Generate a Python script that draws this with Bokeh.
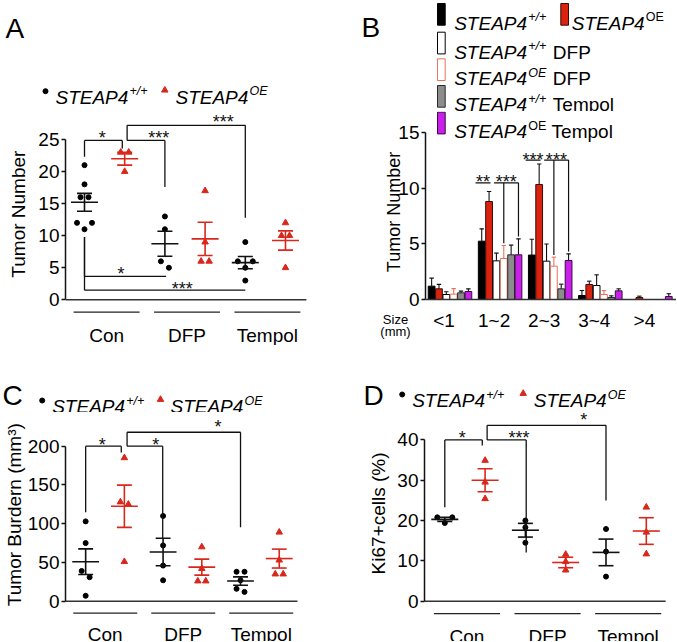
from bokeh.plotting import figure
from bokeh.models import Range1d, FixedTicker
from bokeh.layouts import column, row
from bokeh.embed import file_html
from bokeh.resources import INLINE
from bokeh.core.properties import value

FONT = "Liberation Sans"
INK = "#111111"
RED = "#d8281d"
RED_BAR = "#d9230f"
SALMON = "#e8735c"
GRAY_BAR = "#8c8c8c"
PURPLE = "#c91fea"

# ---------------- data ----------------
groups = ["Con", "DFP", "Tempol"]

# Panel A: tumor number per mouse
A_wt = [[21, 18, 16, 16, 12, 12, 11], [13, 11, 6, 5], [9, 6, 6, 5, 3]]
A_oe = [[23, 23, 20], [17, 9, 6, 6], [12, 10, 10, 5]]
A_wt_mean = [15.2, 8.75, 5.8]
A_wt_sem = [1.4, 1.95, 0.96]
A_oe_mean = [22.0, 9.5, 9.25]
A_oe_sem = [1.0, 2.6, 1.5]
A_ticks = [0, 5, 10, 15, 20, 25]
A_brackets = [(1.0, 1.94, 24.85, 22.3, 23.6), (2.06, 3.0, 24.85, None, 17.6),
              (2.06, 5.0, 27.2, 24.85, 12.8), (1.0, 3.03, 3.64, 9.8, None),
              (1.0, 5.0, 1.5, 9.8, None)]
A_stars = [(1.44, 26.0, "*"), (2.85, 26.0, "***"), (4.45, 28.5, "***"),
           (1.91, 4.68, "*"), (3.43, 2.39, "***")]

# Panel B: tumor number by tumor size
B_sizes = ["<1", "1~2", "2~3", "3~4", ">4"]
B_wt = [1.2, 5.25, 4.0, 0.36, 0.0]
B_wt_err = [0.72, 1.11, 1.42, 0.45, 0.0]
B_oe = [0.96, 8.82, 10.35, 1.35, 0.18]
B_oe_err = [0.4, 0.9, 1.85, 0.3, 0.12]
B_wt_dfp = [0.45, 3.48, 3.45, 1.26, 0.0]
B_wt_dfp_err = [0.25, 0.69, 1.55, 0.96, 0.0]
B_oe_dfp = [0.48, 3.69, 3.0, 0.45, 0.0]
B_oe_dfp_err = [0.5, 1.17, 0.81, 0.35, 0.0]
B_wt_tem = [0.6, 4.02, 0.96, 0.18, 0.0]
B_wt_tem_err = [0.15, 0.87, 0.42, 0.15, 0.0]
B_oe_tem = [0.72, 4.02, 3.51, 0.78, 0.27]
B_oe_tem_err = [0.24, 1.44, 0.6, 0.18, 0.25]
B_ticks = [0, 5, 10, 15]
B_sig = [(1, 10.5, "**", "***"), (2, 12.55, "***", "***")]

# Panel C: tumor burden
C_wt = [[103, 75, 39, 31, 7], [110, 72, 46, 27], [38, 38, 27, 16, 12]]
C_oe = [[185, 128, 125, 51], [70, 42, 26, 26], [89, 53, 35, 35]]
C_wt_mean = [51, 63.5, 26]
C_wt_sem = [16.5, 17.8, 5.4]
C_oe_mean = [122.5, 44, 55]
C_oe_sem = [27.3, 10.3, 12.2]
C_ticks = [0, 50, 100, 150, 200]
C_brackets = [(1.0, 1.92, 200, 114.8, 192), (2.07, 2.99, 200, None, 80.4),
              (2.07, 5.0, 218, 200, 95.5)]
C_stars = [(1.43, 207, "*"), (2.81, 207, "*"), (4.42, 230, "*")]

# Panel D: Ki67+ cells
D_wt = [[20.8, 20.8, 19.4], [20, 18.3, 14.5], [17.9, 12.3, 6.1]]
D_oe = [[34.9, 29.5, 25.4], [11.6, 9.8, 7.7], [23.3, 17.1, 11.7]]
D_wt_mean = [20.3, 17.6, 12.1]
D_wt_sem = [0.5, 1.7, 3.3]
D_oe_mean = [30.0, 9.6, 17.4]
D_oe_sem = [2.85, 1.3, 3.3]
D_ticks = [0, 10, 20, 30, 40]
D_brackets = [(1.0, 1.93, 40, 23.3, 38.6), (2.05, 3.02, 40, None, 12.1),
              (2.05, 5.0, 43.6, 40, 25)]
D_stars = [(1.43, 41.6, "*"), (2.84, 41.6, "***"), (4.45, 46.0, "*")]

# ---------------- helpers ----------------
CW = {'S': 667, 'T': 611, 'E': 667, 'A': 667, 'P': 667, '4': 556, '+': 584, '/': 278,
      'O': 778, ' ': 278, 'D': 722, 'F': 611, 'e': 556, 'm': 833, 'p': 556, 'o': 556, 'l': 222}
SUP = 12.5
MAIN = 19
STAR_DY = 4.5


def tw(s, size):
    return sum(CW.get(c, 556) for c in s) * size / 1000.0


def base_fig(W, H, xr, yr, L=0, yaxis=False):
    p = figure(width=W, height=H, x_range=xr, y_range=yr,
               min_border_left=L, min_border_right=0, min_border_top=0, min_border_bottom=0,
               x_axis_location=None, y_axis_location="left" if yaxis else None,
               toolbar_location=None, output_backend="svg")
    p.outline_line_color = None
    p.grid.visible = False
    p.background_fill_color = "white"
    p.border_fill_color = "white"
    try:
        p.frame_align = False
    except Exception:
        pass
    return p


class Strip:
    """Axis-less strip: data units are pixels, y measured upward from the bottom."""
    def __init__(self, W, H):
        self.W, self.H = W, H
        self.fig = base_fig(W, H, Range1d(0, W), Range1d(0, H))

    def dx(self, px):
        return px

    def dy(self, py):
        return self.H - py


class Panel:
    def __init__(self, W, H, L, kx, x_ref, px_ref, ky, py_zero):
        self.W, self.H, self.L, self.kx, self.ky, self.pz = W, H, L, kx, ky, py_zero
        self.x0 = x_ref - (px_ref - L) / kx
        self.x1 = self.x0 + (W - L) / kx
        self.fig = base_fig(W, H, Range1d(self.x0, self.x1),
                            Range1d(-(H - py_zero) / ky, py_zero / ky), L=L, yaxis=True)

    def dx(self, px):
        return self.x0 + (px - self.L) / self.kx

    def dy(self, py):
        return (self.pz - py) / self.ky

    def px(self, x):
        return self.L + (x - self.x0) * self.kx


def txt(S, x, y, s, size, style="normal", color="black", align="left"):
    # x, y in the strip/panel's local pixels (y downward)
    S.fig.text([S.dx(x)], [S.dy(y)], text=[s], text_font=value(FONT),
               text_font_size=f"{size}px", text_font_style=style, text_color=color,
               text_align=align, text_baseline="alphabetic")


def rich(S, x, base, pieces):
    for s, size, style, rise in pieces:
        if s.startswith(" "):
            x += tw(" ", size)
            s = s[1:]
        txt(S, x, base - rise, s, size, style)
        x += tw(s, size) + (1.2 if style == "italic" else 0.0)
    return x


def style_yaxis(P, ticks, label, label_size, standoff, tick_size=19):
    ax = P.fig.yaxis[0]
    ax.ticker = FixedTicker(ticks=ticks)
    ax.bounds = (ticks[0], ticks[-1])
    ax.axis_label = label
    ax.axis_label_text_font = FONT
    ax.axis_label_text_font_size = f"{label_size}px"
    ax.axis_label_text_font_style = "normal"
    ax.axis_label_text_color = "black"
    ax.axis_label_standoff = standoff
    ax.major_label_text_font = FONT
    ax.major_label_text_font_size = f"{tick_size}px"
    ax.major_label_text_color = "black"
    ax.major_label_standoff = 2
    ax.major_tick_in = 0
    ax.major_tick_out = 4
    ax.minor_tick_line_color = None
    ax.axis_line_width = 1.5
    ax.major_tick_line_width = 1.5
    ax.axis_line_color = INK
    ax.major_tick_line_color = INK


def jitter(vals, ky):
    order = sorted(range(len(vals)), key=lambda i: -vals[i])
    offs = [0.0] * len(vals)
    clusters = []
    for i in order:
        if clusters and abs(vals[clusters[-1][-1]] - vals[i]) * ky < 6.5:
            clusters[-1].append(i)
        else:
            clusters.append([i])
    patterns = {1: [0], 2: [-4, 4], 3: [-7.5, 7.5, 0], 4: [-7.5, 7.5, -2.5, 2.5]}
    for c in clusters:
        pat = patterns.get(len(c), [0] * len(c))
        for i, o in zip(c, pat):
            offs[i] = o
    return offs


GC = [1.55 + 2 * g for g in range(3)]   # group centre (between the two genotypes)
GHW = 0.82                               # half length of group underline


def scatter_panel(P, wt, oe, wt_mean, wt_sem, oe_mean, oe_sem, brackets, stars, base_end,
                  underline_in_main=True):
    p = P.fig
    hm = 13.5 / P.kx
    hc = 7.5 / P.kx
    for g in range(3):
        xw, xo = 1 + 2 * g, 2 + 2 * g
        ow = jitter(wt[g], P.ky)
        p.scatter([xw + o / P.kx for o in ow], wt[g], marker="circle", size=5,
                  fill_color="black", line_color="black")
        oo = jitter(oe[g], P.ky)
        p.scatter([xo + o / P.kx for o in oo], oe[g], marker="triangle", size=6.5,
                  fill_color=RED, line_color=RED)
        for x, m, s, col in ((xw, wt_mean[g], wt_sem[g], INK), (xo, oe_mean[g], oe_sem[g], RED)):
            p.segment([x - hm, x, x - hc, x - hc], [m, m - s, m - s, m + s],
                      [x + hm, x, x + hc, x + hc], [m, m + s, m - s, m + s],
                      line_color=col, line_width=1.6)
    x0s, y0s, x1s, y1s = [], [], [], []
    for xa, xb, y, la, lb in brackets:
        x0s.append(xa); y0s.append(y); x1s.append(xb); y1s.append(y)
        if la is not None:
            x0s.append(xa); y0s.append(y); x1s.append(xa); y1s.append(la)
        if lb is not None:
            x0s.append(xb); y0s.append(y); x1s.append(xb); y1s.append(lb)
    p.segment(x0s, y0s, x1s, y1s, line_color=INK, line_width=1.3)
    p.text([s[0] for s in stars], [s[1] for s in stars], text=[s[2] for s in stars],
           text_font=value(FONT), text_font_size="18px", text_align="center",
           text_baseline="alphabetic", y_offset=STAR_DY, text_color=INK)
    p.segment([P.x0], [0], [base_end], [0], line_color="#333333", line_width=1.5)
    if underline_in_main:
        gl_y = P.dy(P.pz + 12.4)
        p.segment([c - GHW for c in GC], [gl_y] * 3, [c + GHW for c in GC], [gl_y] * 3,
                  line_color="#222222", line_width=1.2)


def footer_labels(P, foot, base, underline_y=None):
    for c, name in zip(GC, groups):
        txt(foot, P.px(c), base, name, 19, align="center")
    if underline_y is not None:
        foot.fig.segment([P.px(c - GHW) for c in GC], [foot.dy(underline_y)] * 3,
                         [P.px(c + GHW) for c in GC], [foot.dy(underline_y)] * 3,
                         line_color="#222222", line_width=1.2)


def scatter_legend(S, x_dot, base, x_text1, x_tri, x_text2):
    S.fig.scatter([x_dot], [S.dy(base - 6)], marker="circle", size=5, fill_color="black",
                  line_color="black")
    rich(S, x_text1, base, [("STEAP4", MAIN, "italic", 0), ("+/+", SUP, "italic", 6)])
    S.fig.scatter([x_tri], [S.dy(base - 7)], marker="triangle", size=6.5, fill_color=RED,
                  line_color=RED)
    rich(S, x_text2, base, [("STEAP4", MAIN, "italic", 0), ("OE", SUP, "italic", 6)])


# ---------------- Panel A (left column, rows 0-345) ----------------
A_head = Strip(340, 105)
txt(A_head, 5, 28.3, "A", 28)
scatter_legend(A_head, 45, 96.7, 55, 164.3, 175)
PA = Panel(W=340, H=212, L=65, kx=40.2, x_ref=1, px_ref=84, ky=6.413, py_zero=194.3)
style_yaxis(PA, A_ticks, "Tumor  Number", 19, 6)
scatter_panel(PA, A_wt, A_oe, A_wt_mean, A_wt_sem, A_oe_mean, A_oe_sem, A_brackets, A_stars, 6.52)
A_foot = Strip(340, 28)
footer_labels(PA, A_foot, 18)

# ---------------- Panel C (left column, rows 345-641) ----------------
C_head = Strip(340, 67)
txt(C_head, 2, 50, "C", 28)
scatter_legend(C_head, 41.7, 61, 51.7, 160, 170)
PC = Panel(W=340, H=199, L=63, kx=39.0, x_ref=1, px_ref=83.3, ky=0.775, py_zero=188.7)
style_yaxis(PC, C_ticks, "Tumor  Burdern (mm\u00b3)", 19, 0)
scatter_panel(PC, C_wt, C_oe, C_wt_mean, C_wt_sem, C_oe_mean, C_oe_sem, C_brackets, C_stars,
              6.47, underline_in_main=False)
C_foot = Strip(340, 30)
footer_labels(PC, C_foot, 23, underline_y=1.7)

# ---------------- Panel D (right column, rows 340-641) ----------------
D_head = Strip(336, 68)
txt(D_head, 23, 55, "D", 28)
scatter_legend(D_head, 61.7, 60, 71.7, 182.7, 193.3)
PD = Panel(W=336, H=210, L=84, kx=40.3, x_ref=1, px_ref=104.3, ky=4.033, py_zero=192.7)
style_yaxis(PD, D_ticks, "Ki67+cells (%)", 19, 5)
scatter_panel(PD, D_wt, D_oe, D_wt_mean, D_wt_sem, D_oe_mean, D_oe_sem, D_brackets, D_stars, 6.48)
D_foot = Strip(336, 23)
footer_labels(PD, D_foot, 18)

# ---------------- Panel B (right column, rows 0-340) ----------------
B_head = Strip(336, 111)
txt(B_head, 21, 26.7, "B", 28)
PB = Panel(W=336, H=196, L=85, kx=50.1, x_ref=0, px_ref=109.5, ky=11.11, py_zero=188)
style_yaxis(PB, B_ticks, "Tumor  Number", 18, -9)
pb = PB.fig
bw = 7.35 / PB.kx
series = [
    (B_wt, B_wt_err, "black", "black", INK),
    (B_oe, B_oe_err, RED_BAR, "#3a0a05", INK),
    (B_wt_dfp, B_wt_dfp_err, "white", "black", INK),
    (B_oe_dfp, B_oe_dfp_err, "white", SALMON, SALMON),
    (B_wt_tem, B_wt_tem_err, GRAY_BAR, "#2a2a2a", INK),
    (B_oe_tem, B_oe_tem_err, PURPLE, "#3a0a40", INK),
]
gx = list(range(len(B_sizes)))
cap = 2.2 / PB.kx
for j, (vals, errs, fill, line, ecol) in enumerate(series):
    xs = [g + (j - 2.5) * bw for g in gx]
    pb.vbar(x=xs, top=vals, bottom=0, width=bw * 0.92, fill_color=fill, line_color=line,
            line_width=1)
    ex = [x for x, e in zip(xs, errs) if e > 0]
    ev = [v for v, e in zip(vals, errs) if e > 0]
    ee = [v + e for v, e in zip(vals, errs) if e > 0]
    pb.segment(ex + [x - cap for x in ex], ev + ee, ex + [x + cap for x in ex], ee + ee,
               line_color=ecol, line_width=1.1)
sx0, sy0, sx1, sy1, tx, ty, tt = [], [], [], [], [], [], []
for g, y, lab1, lab2 in B_sig:
    a0, a1 = g - 3 * bw - 0.05, g - bw - 0.045
    b0, b1 = g - 0.12, g + 2.5 * bw
    sx0 += [a0, b0]; sy0 += [y, y]; sx1 += [a1, b1]; sy1 += [y, y]
    for slot in (3, 5):
        vals, errs = series[slot][0], series[slot][1]
        xl = g + (slot - 2.5) * bw
        sx0.append(xl); sy0.append(y); sx1.append(xl); sy1.append(vals[g] + errs[g] + 0.2)
    tx += [(a0 + a1) / 2, (b0 + b1) / 2]; ty += [y + 0.45, y + 0.45]; tt += [lab1, lab2]
pb.segment(sx0, sy0, sx1, sy1, line_color=INK, line_width=1.2)
pb.text(tx, ty, text=tt, text_font=value(FONT), text_font_size="18px", text_align="center",
        text_baseline="alphabetic", y_offset=STAR_DY, text_color=INK)
pb.segment([PB.x0], [0], [PB.x1], [0], line_color="#333333", line_width=1.5)

B_foot = Strip(336, 33)
for g, name in zip(gx, B_sizes):
    txt(B_foot, PB.px(g) - 6, 13, name, 19, align="center")
txt(B_foot, 55, 12, "Size", 13, align="center")
txt(B_foot, 55, 24, "(mm)", 13, align="center")

# legend of B: rows 1-4 in the header strip, row 5 inside the plot frame
leg_style = [("black", "black"), (RED_BAR, "#3a0a05"), ("white", "black"), ("white", SALMON),
             (GRAY_BAR, "#2a2a2a"), (PURPLE, "#3a0a40")]
row_tops = [3.0, 31.7, 58.3, 85.0, 111.7]
row_bases = [22.7, 51.7, 78.3, 104.3, 131.0]
rows_text = [
    [("STEAP4", MAIN, "italic", 0), ("+/+", SUP, "italic", 6)],
    [("STEAP4", MAIN, "italic", 0), ("+/+", SUP, "italic", 6), (" DFP", MAIN, "normal", 0)],
    [("STEAP4", MAIN, "italic", 0), ("OE", SUP, "italic", 6), (" DFP", MAIN, "normal", 0)],
    [("STEAP4", MAIN, "italic", 0), ("+/+", SUP, "italic", 6), (" Tempol", MAIN, "normal", 0)],
    [("STEAP4", MAIN, "italic", 0), ("OE", SUP, "normal", 6), (" Tempol", MAIN, "normal", 0)],
]
row_style = [0, 2, 3, 4, 5]
SW_H = 21.7
for r in range(5):
    if r < 4:
        S, off = B_head, 0.0
    else:
        S, off = PB, 111.0
    top, base = row_tops[r] - off, row_bases[r] - off
    lefts, rights = [97], [104.7]
    fills, lines = [leg_style[row_style[r]][0]], [leg_style[row_style[r]][1]]
    if r == 0:
        lefts.append(220.3); rights.append(228)
        fills.append(leg_style[1][0]); lines.append(leg_style[1][1])
        rich(S, 231.3, base, [("STEAP4", MAIN, "italic", 0), ("OE", SUP, "normal", 6)])
    S.fig.quad(left=[S.dx(v) for v in lefts], right=[S.dx(v) for v in rights],
               top=[S.dy(top)] * len(lefts), bottom=[S.dy(top + SW_H)] * len(lefts),
               fill_color=fills, line_color=lines, line_width=1)
    rich(S, 113.7, base, rows_text[r])

left_col = column(A_head.fig, PA.fig, A_foot.fig, C_head.fig, PC.fig, C_foot.fig)
right_col = column(B_head.fig, PB.fig, B_foot.fig, D_head.fig, PD.fig, D_foot.fig)
layout = row(left_col, right_col)
open("out.html", "w").write(file_html(layout, INLINE))
